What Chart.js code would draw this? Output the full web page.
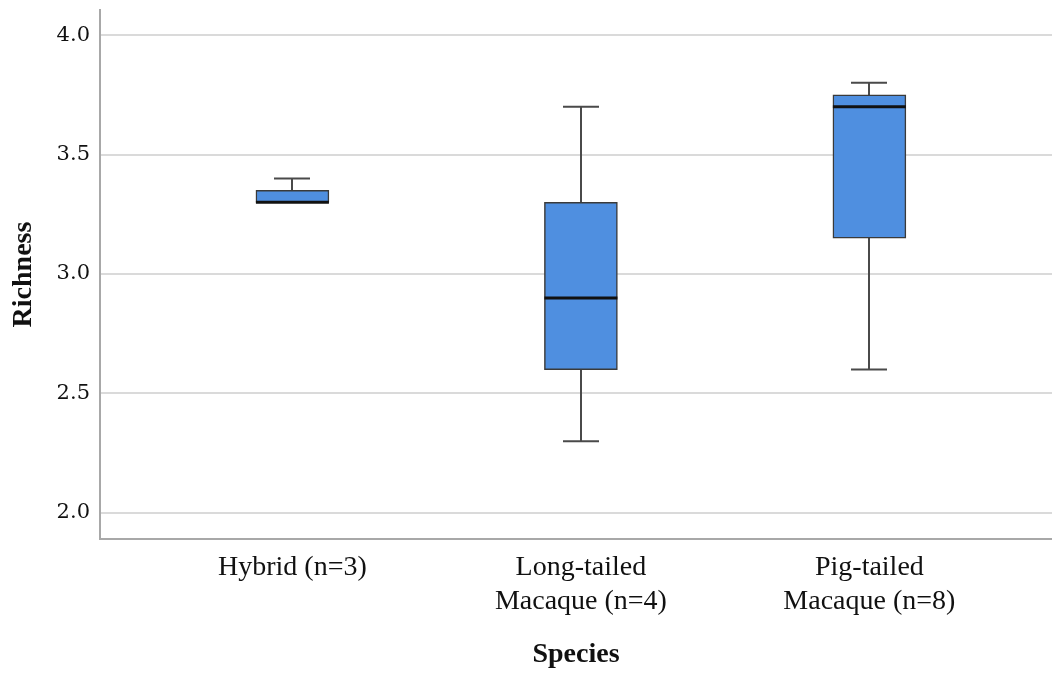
<!DOCTYPE html>
<html>
<head>
<meta charset="utf-8">
<script src="https://cdn.jsdelivr.net/npm/chart.js@4/dist/chart.umd.min.js"></script>
<style>
  html, body { margin: 0; padding: 0; background: #ffffff; }
  #wrap { width: 1052px; height: 673px; }
</style>
</head>
<body>
<div id="wrap"><canvas id="c" width="1052" height="673"></canvas></div>
<script>
// ---- data ----
const categories = ["Hybrid (n=3)", ["Long-tailed", "Macaque (n=4)"], ["Pig-tailed", "Macaque (n=8)"]];
const mins    = [3.30, 2.30, 2.60];
const q1s     = [3.30, 2.60, 3.15];
const medians = [3.30, 2.90, 3.70];
const q3s     = [3.35, 3.30, 3.75];
const maxs    = [3.40, 3.70, 3.80];
const yTicks  = [2.0, 2.5, 3.0, 3.5, 4.0];
const xTitle = "Species";
const yTitle = "Richness";

const boxData = categories.map((c, i) => ({ x: i, y: [q1s[i], q3s[i]] }));

const whiskerPlugin = {
  id: 'whiskers',
  beforeDatasetsDraw(chart) {
    const { ctx, scales: { x, y } } = chart;
    ctx.save();
    ctx.strokeStyle = '#4a4a4a';
    ctx.lineWidth = 2;
    ctx.lineCap = 'butt';
    for (let i = 0; i < categories.length; i++) {
      const cx = Math.round(x.getPixelForValue(i));
      const yMin = y.getPixelForValue(mins[i]);
      const yMax = y.getPixelForValue(maxs[i]);
      ctx.beginPath();
      ctx.moveTo(cx, yMin);
      ctx.lineTo(cx, yMax);
      ctx.stroke();
      const half = 18;
      ctx.beginPath();
      ctx.moveTo(cx - half, yMax); ctx.lineTo(cx + half, yMax);
      if (mins[i] < q1s[i]) { ctx.moveTo(cx - half, yMin); ctx.lineTo(cx + half, yMin); }
      ctx.stroke();
    }
    ctx.restore();
  },
  afterDatasetsDraw(chart) {
    const { ctx, scales: { y } } = chart;
    const meta = chart.getDatasetMeta(0);
    ctx.save();
    ctx.strokeStyle = '#111111';
    ctx.lineWidth = 3;
    meta.data.forEach((bar, i) => {
      const my = y.getPixelForValue(medians[i]);
      ctx.beginPath();
      ctx.moveTo(bar.x - bar.width / 2, my);
      ctx.lineTo(bar.x + bar.width / 2, my);
      ctx.stroke();
    });
    ctx.restore();
  }
};

new Chart(document.getElementById('c'), {
  type: 'bar',
  data: {
    datasets: [{
      data: boxData,
      backgroundColor: '#4f8fe0',
      borderColor: '#3a3a3a',
      borderWidth: 1.5,
      borderSkipped: false,
      barThickness: 73
    }]
  },
  options: {
    responsive: false,
    animation: false,
    devicePixelRatio: 1,
    layout: { padding: { top: 10, right: 0, bottom: 0, left: 0 } },
    plugins: { legend: { display: false }, tooltip: { enabled: false } },
    scales: {
      x: {
        type: 'linear',
        offset: false,
        min: -0.667,
        max: 2.633,
        afterBuildTicks(scale) { scale.ticks = categories.map((c, i) => ({ value: i })); },
        afterFit(scale) { scale.height = 134; scale.paddingLeft = 0; scale.paddingRight = 0; },
        grid: { display: false, drawTicks: false, offset: false },
        border: { display: true, color: '#a8a8a8', width: 2 },
        ticks: {
          autoSkip: false,
          maxRotation: 0,
          padding: 12,
          color: '#111111',
          font: { family: 'Liberation Serif', size: 28 },
          callback: (v) => categories[Math.round(v)]
        },
        title: {
          display: true,
          text: xTitle,
          color: '#111111',
          font: { family: 'Liberation Serif', size: 28, weight: 'bold' },
          padding: { top: 0, bottom: 1 }
        }
      },
      y: {
        type: 'linear',
        min: 1.891,
        max: 4.105,
        afterBuildTicks(scale) { scale.ticks = yTicks.map(v => ({ value: v })); },
        afterFit(scale) { scale.width = 100; scale.paddingTop = 0; scale.paddingBottom = 0; },
        grid: { color: '#dadada', lineWidth: 2, drawTicks: false },
        border: { display: true, color: '#a8a8a8', width: 2 },
        ticks: {
          padding: 10,
          color: '#111111',
          font: { family: 'DejaVu Serif', size: 21 },
          callback: (v) => Number(v).toFixed(1)
        },
        title: {
          display: true,
          text: yTitle,
          color: '#111111',
          font: { family: 'Liberation Serif', size: 28, weight: 'bold' },
          padding: { top: 7, bottom: 0 }
        }
      }
    }
  },
  plugins: [whiskerPlugin]
});
</script>
</body>
</html>
